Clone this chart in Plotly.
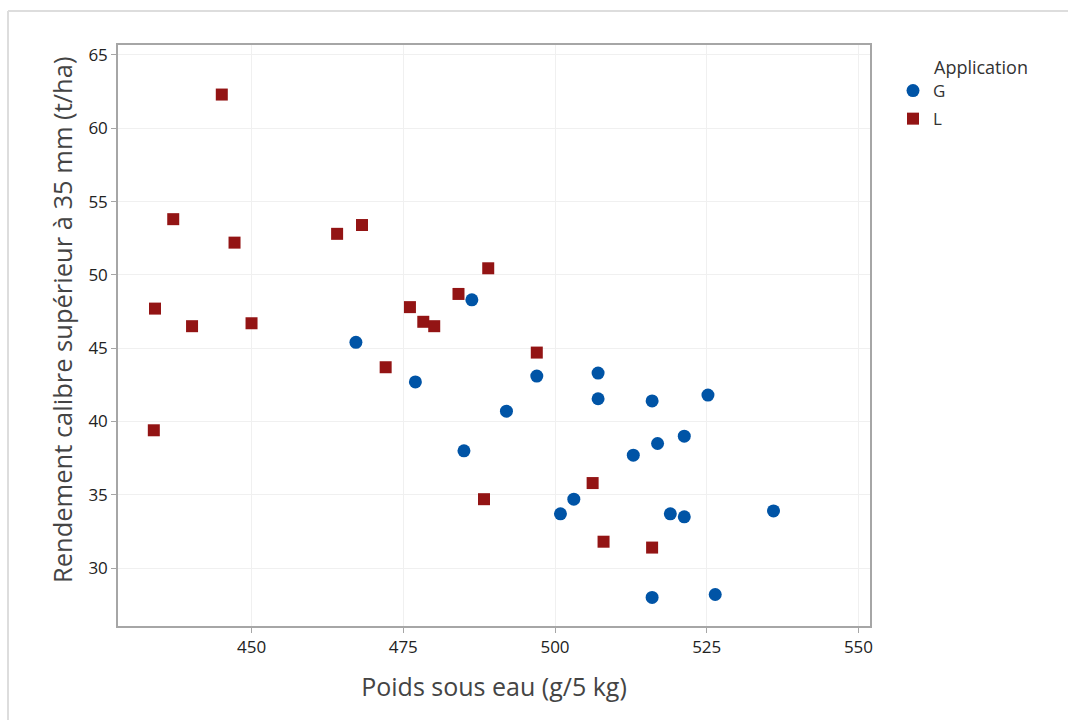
import plotly.graph_objects as go

# Application G (blue circles)
g_poids = [467.2, 486.3, 477.0, 485.0, 492.0, 497.0, 507.1, 507.1, 516.0, 525.2,
           521.3, 516.9, 512.9, 503.1, 500.9, 519.0, 521.3, 536.0, 516.0, 526.4]
g_rendement = [45.4, 48.3, 42.7, 38.0, 40.7, 43.1, 43.3, 41.55, 41.4, 41.8,
               39.0, 38.5, 37.7, 34.7, 33.7, 33.7, 33.5, 33.9, 28.0, 28.2]

# Application L (red squares)
l_poids = [445.1, 437.1, 447.2, 434.1, 440.2, 450.0, 433.9, 464.1, 468.2, 472.1,
           476.1, 478.3, 480.1, 484.1, 489.0, 497.0, 488.3, 506.2, 508.0, 516.0]
l_rendement = [62.3, 53.8, 52.2, 47.7, 46.5, 46.7, 39.4, 52.8, 53.4, 43.7,
               47.8, 46.8, 46.5, 48.7, 50.45, 44.7, 34.7, 35.8, 31.8, 31.4]

x_ticks = [450, 475, 500, 525, 550]
y_ticks = [30, 35, 40, 45, 50, 55, 60, 65]

FONT = "Open Sans"
PW = 752.0   # plot width px
PH = 581.0   # plot height px

fig = go.Figure()
fig.add_trace(go.Scatter(
    x=g_poids, y=g_rendement, mode="markers", name="G", legendgroup="G",
    marker=dict(symbol="circle", size=13, color="#0054a6", line=dict(width=0)),
))
fig.add_trace(go.Scatter(
    x=l_poids, y=l_rendement, mode="markers", name="L", legendgroup="L",
    marker=dict(symbol="square", size=12, color="#931414", line=dict(width=0)),
))

axis_common = dict(
    showline=True, linecolor="#a6a6a6", linewidth=1.5, mirror=True,
    showgrid=True, gridcolor="#f0f0f0", gridwidth=1,
    zeroline=False,
    ticks="outside", ticklen=5, tickcolor="#a6a6a6", tickwidth=1,
    tickfont=dict(family=FONT, size=17, color="#222222"),
)

fig.update_layout(
    width=1068, height=720,
    margin=dict(l=118, r=198, t=45, b=94),
    paper_bgcolor="white", plot_bgcolor="white",
    font=dict(family=FONT, color="#333333"),
    xaxis=dict(
        range=[428.0, 551.9], tickvals=x_ticks,
        title=dict(text="Poids sous eau (g/5 kg)",
                   font=dict(family=FONT, size=25, color="#444444"), standoff=21),
        **axis_common,
    ),
    yaxis=dict(
        range=[26.05, 65.68], tickvals=y_ticks,
        **axis_common,
    ),
    legend=dict(
        font=dict(family=FONT, size=17, color="#333333"),
        x=(893 - 118) / PW, xanchor="left", y=1 - (73 - 45) / PH, yanchor="top",
        traceorder="grouped", tracegroupgap=3,
        bgcolor="rgba(0,0,0,0)",
    ),
    annotations=[
        dict(text="Application", xref="paper", yref="paper",
             x=(932 - 118) / PW, y=1 - (67 - 45) / PH, xanchor="left", yanchor="middle",
             showarrow=False, font=dict(family=FONT, size=18, color="#333333")),
        dict(text="Rendement calibre supérieur à 35 mm (t/ha)", xref="paper", yref="paper",
             x=(62 - 118) / PW, y=1 - (320 - 45) / PH, xanchor="center", yanchor="middle",
             textangle=-90, showarrow=False,
             font=dict(family=FONT, size=25.5, color="#444444")),
    ],
    shapes=[
        dict(type="line", xref="paper", yref="paper",
             x0=-110 / PW, x1=1.5, y0=1 + 34 / PH, y1=1 + 34 / PH,
             line=dict(color="#dddddd", width=2)),
        dict(type="line", xref="paper", yref="paper",
             x0=-110 / PW, x1=-110 / PW, y0=1 + 34 / PH, y1=-0.3,
             line=dict(color="#dddddd", width=2)),
    ],
)

fig.write_html("out.html")
